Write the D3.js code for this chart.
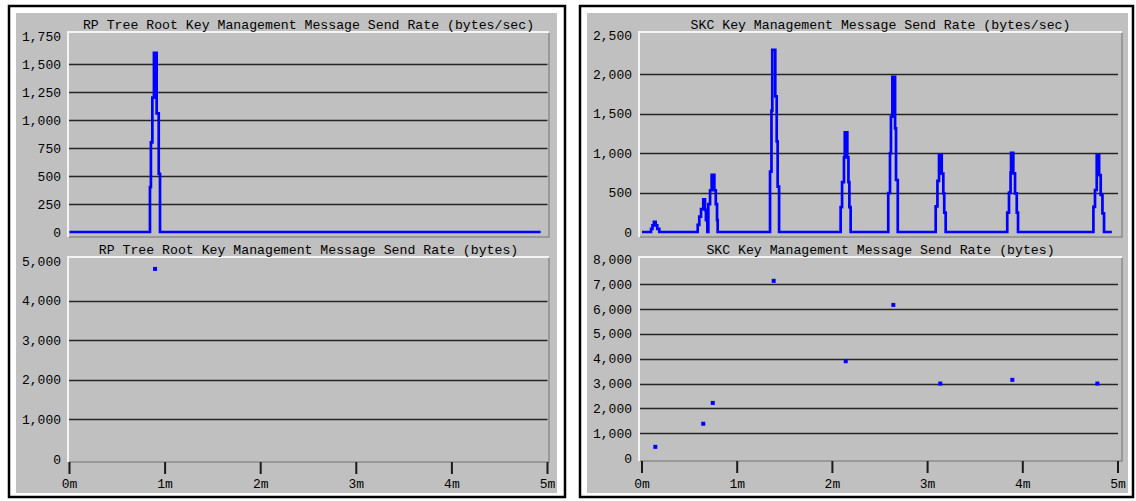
<!DOCTYPE html>
<html>
<head>
<meta charset="utf-8">
<script src="https://cdn.jsdelivr.net/npm/d3@7"></script>
<style>
  html, body { margin: 0; padding: 0; background: #ffffff; }
  svg { display: block; }
  text { font-family: "Courier New", "Liberation Mono", monospace; fill: #000000; }
</style>
</head>
<body>
<svg id="chart" width="1136" height="501"></svg>
<script>
// ---- data (time in seconds, values as recorded) ----
const timeTicks = [0, 60, 120, 180, 240, 300];
const timeTickLabels = ["0m", "1m", "2m", "3m", "4m", "5m"];

// RP Tree Root: send rate (bytes/sec), step samples
const rpRateTime  = [0, 50.5, 51.1, 52.0, 53.0, 54.7, 56.0, 56.8, 295.7];
const rpRateValue = [0, 400, 800, 1200, 1600, 1060, 520, 0, 0];
const rpRateTicks = [0, 250, 500, 750, 1000, 1250, 1500, 1750];

// RP Tree Root: send amount (bytes)
const rpBytesTime  = [53.7];
const rpBytesValue = [4800];
const rpBytesTicks = [0, 1000, 2000, 3000, 4000, 5000];

// SKC: send rate (bytes/sec), step samples
const skcRateTime = [
  0, 5.7, 6.6, 7.5, 8.6, 9.6, 10.9,
  35.1, 36.1, 37.2, 38.6, 39.7, 40.3, 41.2, 41.8, 42.9, 43.9, 45.6, 46.5, 47.3, 47.7,
  80.7, 81.6, 82.1, 84.0, 84.9, 85.5, 86.4,
  125.2, 126.1, 127.3, 127.8, 129.4, 130.1, 130.7, 131.5,
  155.2, 156.3, 156.9, 157.8, 159.5, 160.1, 161.2,
  185.1, 186.2, 187.2, 188.9, 189.9, 190.5, 191.4,
  230.2, 231.3, 232.3, 232.6, 234.0, 235.1, 236.2, 237.0,
  284.5, 285.5, 286.6, 288.1, 289.1, 290.2, 291.2,
  296.1
];
const skcRateValue = [
  0, 40, 85, 130, 85, 40, 0,
  90, 195, 290, 415, 280, 150, 0, 355, 530, 725, 530, 355, 150, 0,
  765, 1540, 2310, 1720, 1150, 575, 0,
  316, 632, 948, 1265, 948, 632, 316, 0,
  495, 1000, 1463, 1970, 1316, 660, 0,
  325, 650, 977, 740, 490, 245, 0,
  245, 500, 755, 1006, 745, 490, 245, 0,
  320, 533, 977, 723, 470, 237, 0,
  0
];
const skcRateTicks = [0, 500, 1000, 1500, 2000, 2500];

// SKC: send amount (bytes)
const skcBytesTime  = [8.4, 38.6, 44.6, 83.0, 128.4, 158.4, 188.0, 233.4, 287.0];
const skcBytesValue = [450, 1380, 2220, 7140, 3900, 6170, 3000, 3150, 3000];
const skcBytesTicks = [0, 1000, 2000, 3000, 4000, 5000, 6000, 7000, 8000];

const rpTitleRate  = "RP Tree Root Key Management Message Send Rate (bytes/sec)";
const rpTitleBytes = "RP Tree Root Key Management Message Send Rate (bytes)";
const skcTitleRate  = "SKC Key Management Message Send Rate (bytes/sec)";
const skcTitleBytes = "SKC Key Management Message Send Rate (bytes)";

// ---- layout ----
const svg = d3.select("#chart");
const fmt = d3.format(",");
const BLUE = "#0000ff";
const GRAY = "#c0c0c0";

const panels = [
  {
    frame: { x: 9, y: 6, w: 556, h: 491 },
    face:  { x: 16, y: 13, w: 541, h: 480 },
    plotX: [68, 549], xRange: [69.5, 547.5],
    graphs: [
      { title: rpTitleRate, time: rpRateTime, value: rpRateValue, ticks: rpRateTicks,
        plotY: [32, 237], yRange: [232, 36], kind: "line" },
      { title: rpTitleBytes, time: rpBytesTime, value: rpBytesValue, ticks: rpBytesTicks,
        plotY: [257, 462], yRange: [459, 261], kind: "dots", axis: true }
    ]
  },
  {
    frame: { x: 580, y: 6, w: 553, h: 491 },
    face:  { x: 587, y: 13, w: 541, h: 480 },
    plotX: [639, 1122], xRange: [642, 1118],
    graphs: [
      { title: skcTitleRate, time: skcRateTime, value: skcRateValue, ticks: skcRateTicks,
        plotY: [32, 237], yRange: [232, 35], kind: "line" },
      { title: skcTitleBytes, time: skcBytesTime, value: skcBytesValue, ticks: skcBytesTicks,
        plotY: [257, 461], yRange: [458, 259.5], kind: "dots", axis: true }
    ]
  }
];

panels.forEach(p => {
  const g = svg.append("g");
  g.append("rect")
    .attr("x", p.frame.x).attr("y", p.frame.y)
    .attr("width", p.frame.w).attr("height", p.frame.h)
    .attr("fill", "#ffffff").attr("stroke", "#000000").attr("stroke-width", 2.5);
  g.append("rect")
    .attr("x", p.face.x).attr("y", p.face.y)
    .attr("width", p.face.w).attr("height", p.face.h)
    .attr("fill", GRAY);

  const x = d3.scaleLinear().domain([0, 300]).range(p.xRange);
  const [pl, pr] = p.plotX;

  p.graphs.forEach(gr => {
    const [pt, pb] = gr.plotY;
    const y = d3.scaleLinear().domain([0, d3.max(gr.ticks)]).range(gr.yRange);

    // plot well with light top/left and dark bottom/right edges
    g.append("rect").attr("x", pl).attr("y", pt).attr("width", pr - pl).attr("height", pb - pt)
      .attr("fill", GRAY);
    g.append("path").attr("d", `M${pl},${pb} V${pt} H${pr}`)
      .attr("fill", "none").attr("stroke", "#f4f4f4").attr("stroke-width", 2);
    g.append("path").attr("d", `M${pl + 1},${pb} H${pr} V${pt + 1}`)
      .attr("fill", "none").attr("stroke", "#8c8c8c").attr("stroke-width", 1.5);

    // horizontal gridlines on inner ticks
    const inner = gr.ticks.filter(v => v > 0 && v < d3.max(gr.ticks));
    g.append("g").selectAll("line").data(inner).join("line")
      .attr("x1", pl + 1).attr("x2", p.xRange[1])
      .attr("y1", d => Math.round(y(d)) + 0.5).attr("y2", d => Math.round(y(d)) + 0.5)
      .attr("stroke", "#262626").attr("stroke-width", 1.6);

    // y tick labels
    g.append("g").selectAll("text").data(gr.ticks).join("text")
      .attr("x", pl - 7).attr("y", d => y(d) + 4.5)
      .attr("text-anchor", "end")
      .attr("font-size", "13px")
      .text(d => fmt(d));

    // title
    g.append("text")
      .attr("x", (pl + pr) / 2).attr("y", pt - 3)
      .attr("text-anchor", "middle")
      .attr("font-size", "13.2px")
      .text(gr.title);

    const pts = gr.time.map((t, i) => [t, gr.value[i]]);
    if (gr.kind === "line") {
      const line = d3.line().x(d => x(d[0])).y(d => y(d[1])).curve(d3.curveStepAfter);
      g.append("path").datum(pts).attr("d", line)
        .attr("fill", "none").attr("stroke", BLUE).attr("stroke-width", 2.7)
        .attr("stroke-linejoin", "miter");
    } else {
      g.append("g").selectAll("rect").data(pts).join("rect")
        .attr("x", d => x(d[0]) - 2).attr("y", d => y(d[1]) - 2)
        .attr("width", 4).attr("height", 4).attr("fill", BLUE);
    }

    if (gr.axis) {
      const ax = g.append("g");
      ax.selectAll("line").data(timeTicks).join("line")
        .attr("x1", d => x(d)).attr("x2", d => x(d))
        .attr("y1", pb).attr("y2", pb + 12)
        .attr("stroke", "#1a1a1a").attr("stroke-width", 2);
      ax.selectAll("text").data(timeTicks).join("text")
        .attr("x", d => x(d)).attr("y", 488)
        .attr("text-anchor", "middle")
        .attr("font-size", "13px")
        .text((d, i) => timeTickLabels[i]);
    }
  });
});
</script>
</body>
</html>
